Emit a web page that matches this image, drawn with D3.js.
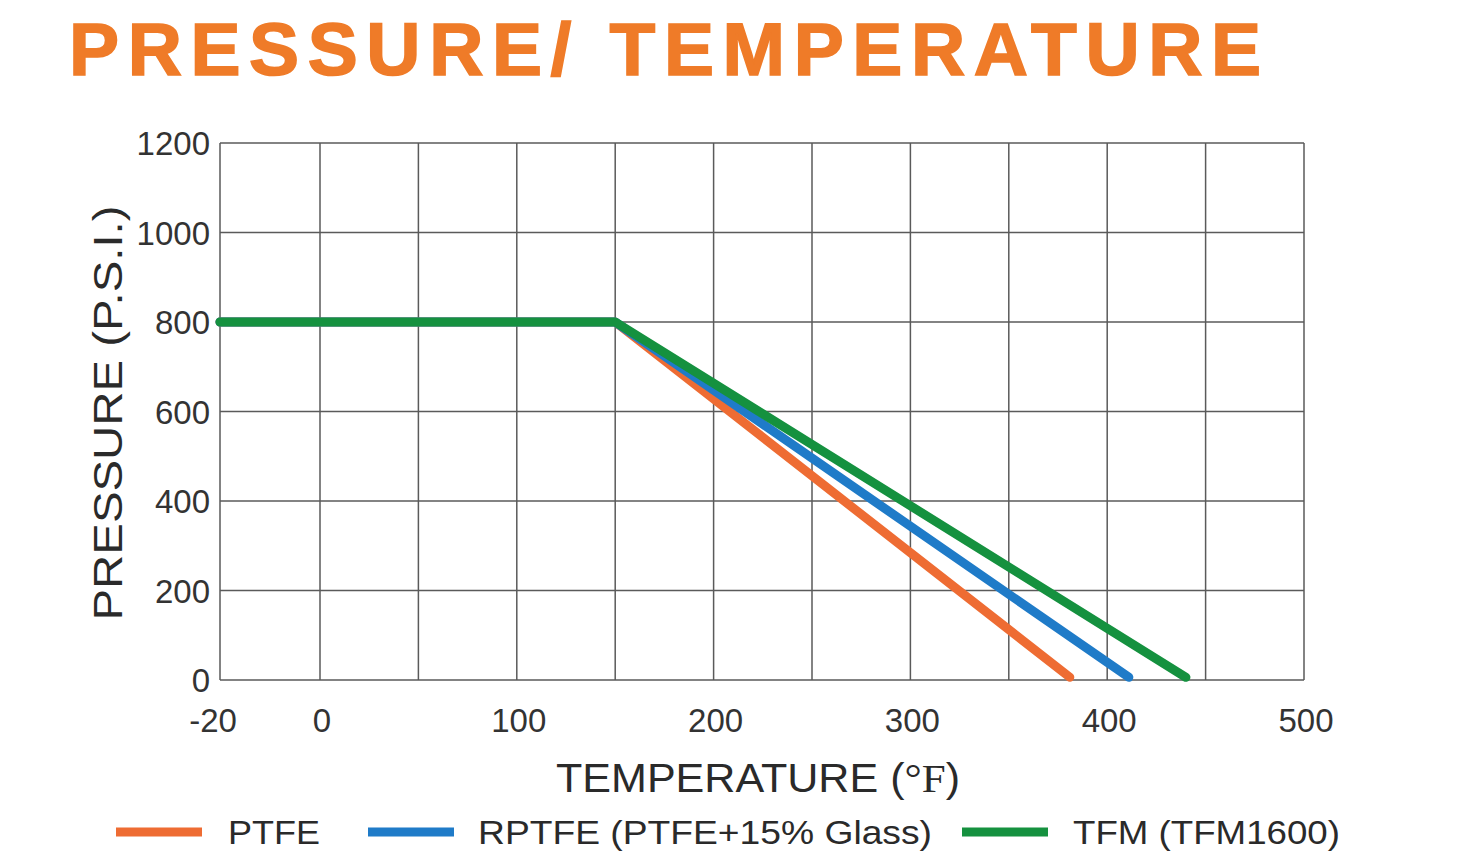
<!DOCTYPE html>
<html>
<head>
<meta charset="utf-8">
<script src="https://cdn.jsdelivr.net/npm/d3@7"></script>
<style>
  body { margin: 0; background: #fff; }
  svg { display: block; }
  .grid line { stroke: #5a5a5a; stroke-width: 1.5; }
  .tick-label { font-family: "Liberation Sans", Arial, sans-serif; fill: #333; font-size: 33px; }
  .axis-title { font-family: "Liberation Sans", Arial, sans-serif; fill: #2a2a2a; font-size: 40px; }
</style>
</head>
<body>
<svg width="1463" height="864"></svg>
<script>
// data
const xTicks = [-20, 0, 50, 100, 150, 200, 250, 300, 350, 400, 450, 500];
const xLabels = [-20, 0, 100, 200, 300, 400, 500];
const yTicks = [0, 200, 400, 600, 800, 1000, 1200];
const seriesNames = ["PTFE", "RPTFE (PTFE+15% Glass)", "TFM (TFM1600)"];
const seriesColors = ["#ee6c33", "#1f7bc8", "#15913f"];
const ptfe = [[-20, 800], [150, 800], [381, 6]];
const rptfe = [[-20, 800], [150, 800], [411, 6]];
const tfm = [[-20, 800], [150, 800], [440, 6]];
const series = [ptfe, rptfe, tfm];

const svg = d3.select("svg");

// -20 gets one full grid cell, like the printed chart
const x = d3.scaleLinear().domain([-20, 0, 500]).range([220, 320, 1304]);
const y = d3.scaleLinear().domain([0, 1200]).range([680, 143]);

// title
svg.append("text")
    .attr("x", 69).attr("y", 75)
    .attr("textLength", 1192)
    .attr("lengthAdjust", "spacing")
    .style("font-family", "'Liberation Sans', Arial, sans-serif")
    .style("font-weight", "bold")
    .style("font-size", "75px")
    .style("fill", "#ef7b28")
    .style("stroke", "#ef7b28")
    .style("stroke-width", 1.6)
    .text("PRESSURE/ TEMPERATURE");

// grid
const grid = svg.append("g").attr("class", "grid");
grid.selectAll(".vx")
    .data(xTicks)
    .enter()
    .append("line")
    .attr("x1", d => x(d)).attr("x2", d => x(d))
    .attr("y1", y(1200)).attr("y2", y(0));
grid.selectAll(".hy")
    .data(yTicks)
    .enter()
    .append("line")
    .attr("x1", x(-20)).attr("x2", x(500))
    .attr("y1", d => y(d)).attr("y2", d => y(d));

// tick labels
svg.selectAll(".xl")
    .data(xLabels)
    .enter()
    .append("text")
    .attr("class", "tick-label")
    .attr("x", d => x(d) + (d === -20 ? -7 : 2))
    .attr("y", 732)
    .attr("text-anchor", "middle")
    .text(d => d);

svg.selectAll(".yl")
    .data(yTicks)
    .enter()
    .append("text")
    .attr("class", "tick-label")
    .attr("x", 210)
    .attr("y", d => y(d) + 12)
    .attr("text-anchor", "end")
    .text(d => d);

// axis titles
const xt = svg.append("text")
    .attr("class", "axis-title")
    .attr("x", 556).attr("y", 792)
    .attr("textLength", 404)
    .attr("lengthAdjust", "spacingAndGlyphs");
xt.append("tspan").text("TEMPERATURE (");
xt.append("tspan").style("font-family", "'Liberation Serif', 'Times New Roman', serif").text("°F");
xt.append("tspan").text(")");

svg.append("text")
    .attr("class", "axis-title")
    .attr("transform", "translate(122,413) rotate(-90)")
    .attr("text-anchor", "middle")
    .attr("textLength", 415)
    .attr("lengthAdjust", "spacingAndGlyphs")
    .text("PRESSURE (P.S.I.)");

// lines
const line = d3.line().x(d => x(d[0])).y(d => y(d[1]));
svg.selectAll(".series")
    .data(series)
    .enter()
    .append("path")
    .attr("d", line)
    .attr("fill", "none")
    .attr("stroke", (d, i) => seriesColors[i])
    .attr("stroke-width", 9)
    .attr("stroke-linejoin", "round")
    .attr("stroke-linecap", "round");

// legend
const legendX = [116, 368, 962];
const legendTextX = [228, 478, 1073];
const legendW = [92, 454, 267];
const lg = svg.selectAll(".lg")
    .data(seriesNames)
    .enter()
    .append("g");
lg.append("line")
    .attr("x1", (d, i) => legendX[i]).attr("x2", (d, i) => legendX[i] + 86)
    .attr("y1", 832).attr("y2", 832)
    .attr("stroke", (d, i) => seriesColors[i])
    .attr("stroke-width", 9);
lg.append("text")
    .attr("class", "tick-label")
    .attr("x", (d, i) => legendTextX[i])
    .attr("y", 844)
    .attr("textLength", (d, i) => legendW[i])
    .attr("lengthAdjust", "spacingAndGlyphs")
    .style("font-size", "34px")
    .style("fill", "#2a2a2a")
    .text(d => d);
</script>
</body>
</html>
